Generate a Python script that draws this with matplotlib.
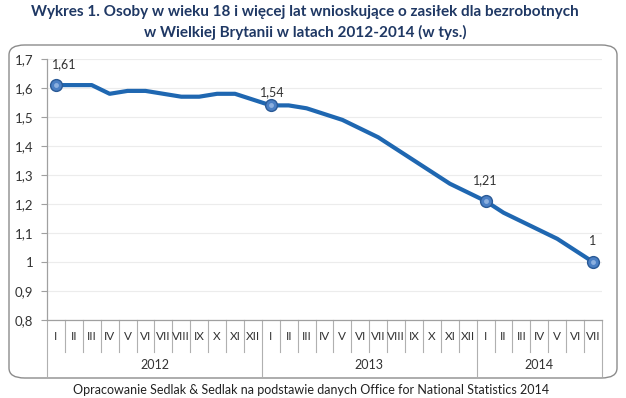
import matplotlib
matplotlib.use("Agg")
import matplotlib.pyplot as plt
from matplotlib.patches import FancyBboxPatch
from matplotlib.transforms import blended_transform_factory

months = ["I", "II", "III", "IV", "V", "VI", "VII", "VIII", "IX", "X", "XI", "XII",
          "I", "II", "III", "IV", "V", "VI", "VII", "VIII", "IX", "X", "XI", "XII",
          "I", "II", "III", "IV", "V", "VI", "VII"]
years = ["2012", "2013", "2014"]
year_counts = [12, 12, 7]
values = [1.61, 1.61, 1.61, 1.58, 1.59, 1.59, 1.58, 1.57, 1.57, 1.58, 1.58, 1.56,
          1.54, 1.54, 1.53, 1.51, 1.49, 1.46, 1.43, 1.39, 1.35, 1.31, 1.27, 1.24,
          1.21, 1.17, 1.14, 1.11, 1.08, 1.04, 1.00]
marked = [0, 12, 24, 30]
marked_labels = ["1,61", "1,54", "1,21", "1"]
yticks = [0.8, 0.9, 1.0, 1.1, 1.2, 1.3, 1.4, 1.5, 1.6, 1.7]
ytick_labels = ["0,8", "0,9", "1", "1,1", "1,2", "1,3", "1,4", "1,5", "1,6", "1,7"]

plt.rcParams['font.family'] = ['Lato', 'DejaVu Sans']

W, H = 626, 398
fig = plt.figure(figsize=(W / 100, H / 100), dpi=100)

def fx(px):
    return px / W

def fy(py):
    return 1 - py / H

# rounded chart frame
frame = FancyBboxPatch((fx(9), fy(378)), fx(608), fy(45) - fy(378),
                       boxstyle="round,pad=0,rounding_size=0.025",
                       transform=fig.transFigure, facecolor="white",
                       edgecolor="#8c8c8c", linewidth=1.0, zorder=-10)
fig.patches.append(frame)

left, right, top, bottom = 47, 602, 59, 320
ax = fig.add_axes([fx(left), fy(bottom), fx(right) - fx(left), fy(top) - fy(bottom)])
ax.set_zorder(5)
ax.set_facecolor("none")

x = list(range(len(values)))
ax.plot(x, values, color="#1f67b1", linewidth=3.0, solid_joinstyle="round", zorder=3)
mx = [x[i] for i in marked]
my = [values[i] for i in marked]
ax.plot(mx, my, linestyle="none", marker="o", markersize=8.5,
        markerfacecolor="#4a7fc4", markeredgecolor="#2a5a96", markeredgewidth=1.0, zorder=4)
ax.plot(mx, my, linestyle="none", marker="o", markersize=3.5,
        markerfacecolor="#9dbde6", markeredgecolor="none", alpha=0.8, zorder=5)
label_offsets = [(6, 11), (1, 5), (0, 11), (0, 11)]
for i, lab, off in zip(marked, marked_labels, label_offsets):
    ax.annotate(lab, (x[i], values[i]), xytext=off, textcoords="offset points",
                ha="center", va="bottom", fontsize=9, color="#333333")

ax.set_xlim(-0.5, len(values) - 0.5)
ax.set_ylim(0.8, 1.7)
ax.set_yticks(yticks)
ax.set_yticklabels(ytick_labels, fontsize=9.5, color="#333333")
ax.tick_params(axis="y", length=4, color="#a0a0a0", pad=6)
ax.set_xticks([])
ax.grid(axis="y", color="#ececec", linewidth=0.8)
ax.set_axisbelow(True)
for s in ["top", "right"]:
    ax.spines[s].set_visible(False)
for s in ["left", "bottom"]:
    ax.spines[s].set_color("#a0a0a0")
    ax.spines[s].set_linewidth(0.9)

tr = blended_transform_factory(ax.transData, ax.transAxes)
ah = bottom - top

def ay(py):
    return (bottom - py) / ah

# month separators and labels
year_starts = [0]
for c in year_counts:
    year_starts.append(year_starts[-1] + c)
for b in range(len(values) + 1):
    yend = ay(376) if b in year_starts else ay(352)
    ax.plot([b - 0.5, b - 0.5], [0, yend], transform=tr, color="#b0b0b0",
            linewidth=0.8, clip_on=False)
for i, m in enumerate(months):
    ax.text(i, ay(336), m, transform=tr, ha="center", va="center",
            fontsize=8.5, color="#333333")
for k, yr in enumerate(years):
    cx = (year_starts[k] + year_starts[k + 1] - 1) / 2
    ax.text(cx, ay(365), yr, transform=tr, ha="center", va="center",
            fontsize=9, color="#333333")

# title
fig.text(0.487, fy(12), "Wykres 1. Osoby w wieku 18 i więcej lat wnioskujące o zasiłek dla bezrobotnych",
         ha="center", va="center", fontsize=11, fontweight="bold", color="#1f3864")
fig.text(0.487, fy(32), "w Wielkiej Brytanii w latach 2012-2014 (w tys.)",
         ha="center", va="center", fontsize=11, fontweight="bold", color="#1f3864")
# footer
fig.text(fx(311), fy(390), "Opracowanie Sedlak & Sedlak na podstawie danych Office for National Statistics 2014",
         ha="center", va="center", fontsize=9, color="#222222")

fig.savefig("out.png", dpi=100)
